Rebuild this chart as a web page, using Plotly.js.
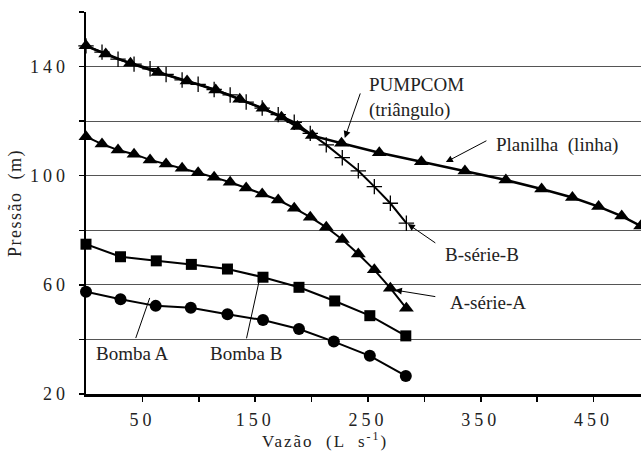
<!DOCTYPE html>
<html>
<head>
<meta charset="utf-8">
<script src="https://cdn.plot.ly/plotly-3.0.1.min.js"></script>
<style>
html, body { margin: 0; padding: 0; background: #fff; }
#chart { width: 641px; height: 452px; }
.xtick text, .ytick text { letter-spacing: 4px; }
.ytitle { letter-spacing: 1.5px; }
</style>
</head>
<body>
<div id="chart"></div>
<script>
// Top curve: PUMPCOM (triangles) with Planilha line
const topX = [0, 17.5, 39.4, 63.9, 89.6, 115.0, 136.3, 157.0, 173.3, 187.5, 200.6, 226.5, 260.0, 297.3, 335.9, 372.2, 403.9, 431.2, 454.4, 474.9, 491.7];
const topY = [147.6, 144.6, 141.2, 137.8, 134.7, 131.4, 128.0, 124.7, 121.4, 118.0, 114.7, 111.9, 108.4, 105.1, 101.7, 98.4, 95.1, 92.0, 88.7, 85.2, 81.6];

// B-série-B (crosses)
const bSerieX = [0, 14.2, 28.4, 42.6, 56.8, 71.0, 85.2, 99.4, 113.6, 127.8, 142.0, 156.2, 170.4, 184.6, 198.8, 213.0, 227.2, 241.4, 255.6, 269.8, 284.0];
const bSerieY = [147.6, 145.3, 142.7, 140.9, 139.2, 137.1, 135.1, 133.5, 131.6, 129.6, 127.0, 124.8, 122.4, 119.6, 115.5, 111.3, 106.6, 101.8, 96.0, 89.9, 82.6];

// A-série-A (triangles)
const aSerieX = [0, 14.2, 28.4, 42.6, 56.8, 71.0, 85.2, 99.4, 113.6, 127.8, 142.0, 156.2, 170.4, 184.6, 198.8, 213.0, 227.2, 241.4, 255.6, 269.8, 284.0];
const aSerieY = [114.3, 111.6, 109.4, 107.9, 105.8, 104.3, 102.7, 101.1, 99.4, 97.6, 95.5, 93.3, 91.1, 88.1, 84.8, 81.1, 76.6, 71.3, 65.5, 58.8, 51.4];

// Bomba B (squares)
const bombaBX = [0, 30.6, 62.3, 93.4, 125.4, 156.9, 188.8, 220.5, 251.6, 283.5];
const bombaBY = [74.9, 70.3, 68.8, 67.5, 65.8, 62.8, 59.1, 54.1, 48.7, 41.3];

// Bomba A (circles)
const bombaAX = [0, 30.6, 61.8, 92.9, 125.4, 156.9, 188.8, 219.7, 251.6, 283.5];
const bombaAY = [57.5, 54.7, 52.3, 51.6, 49.2, 47.1, 43.8, 39.2, 34.0, 26.6];

// Axis ticks
const xTickVals = [50, 100, 150, 200, 250, 300, 350, 400, 450];
const xTickText = ['50', '', '150', '', '250', '', '350', '', '450'];
const yTickVals = [20, 40, 60, 80, 100, 120, 140, 160];
const yTickText = ['20', '', '60', '', '100', '', '140', ''];

const FONT = '"Liberation Serif"';

const traces = [
  {
    x: bSerieX, y: bSerieY, mode: 'lines+markers', name: 'B-série-B',
    line: { color: '#000', width: 2 },
    marker: { symbol: 'cross-thin', size: 11, color: '#000', line: { color: '#000', width: 1.3 } },
    cliponaxis: false
  },
  {
    x: topX, y: topY, mode: 'lines+markers', name: 'PUMPCOM / Planilha',
    line: { color: '#000', width: 2.5 },
    marker: { symbol: 'triangle-up', size: 13, color: '#000' },
    cliponaxis: false
  },
  {
    x: aSerieX, y: aSerieY, mode: 'lines+markers', name: 'A-série-A',
    line: { color: '#000', width: 2 },
    marker: { symbol: 'triangle-up', size: 13, color: '#000' },
    cliponaxis: false
  },
  {
    x: bombaBX, y: bombaBY, mode: 'lines+markers', name: 'Bomba B',
    line: { color: '#000', width: 2 },
    marker: { symbol: 'square', size: 11, color: '#000' },
    cliponaxis: false
  },
  {
    x: bombaAX, y: bombaAY, mode: 'lines+markers', name: 'Bomba A',
    line: { color: '#000', width: 2 },
    marker: { symbol: 'circle', size: 12, color: '#000' },
    cliponaxis: false
  }
];

const annFont = { family: FONT, size: 19, color: '#222' };
function label(text, x, y) {
  return { text: text, x: x, y: y, xref: 'x', yref: 'y', xanchor: 'left', yanchor: 'middle',
           align: 'left', showarrow: false, font: annFont };
}
function arrow(x, y, ax, ay) {
  return { text: '', x: x, y: y, ax: ax, ay: ay, xref: 'x', yref: 'y', axref: 'x', ayref: 'y',
           showarrow: true, arrowhead: 2, arrowsize: 1.4, arrowwidth: 1, arrowcolor: '#000' };
}

const layout = {
  width: 641, height: 452,
  margin: { l: 86, r: 0, t: 12, b: 58 },
  paper_bgcolor: '#fff', plot_bgcolor: '#fff',
  showlegend: false,
  font: { family: FONT, color: '#222' },
  xaxis: {
    range: [0, 492], showline: true, linecolor: '#000', linewidth: 2.5,
    ticks: 'outside', ticklen: 5, tickwidth: 1.5, tickcolor: '#000',
    tickvals: xTickVals, ticktext: xTickText,
    showgrid: false, zeroline: false,
    tickfont: { family: FONT, size: 18, color: '#222' },
    ticklabelstandoff: 3
  },
  yaxis: {
    range: [20, 160], showline: true, linecolor: '#000', linewidth: 2.5,
    ticks: 'outside', ticklen: 5, tickwidth: 1.5, tickcolor: '#000',
    tickvals: yTickVals, ticktext: yTickText,
    showgrid: true, gridcolor: '#555', gridwidth: 1, zeroline: false,
    tickfont: { family: FONT, size: 18, color: '#222' },
    ticklabelstandoff: 6,
    title: { text: 'Pressão  (m)', font: { family: FONT, size: 18, color: '#222' }, standoff: 4 }
  },
  annotations: [
    { text: 'Vazão  (L  s<sup>-1</sup>)', xref: 'paper', yref: 'paper', x: 0.4306, y: -0.121,
      xanchor: 'center', yanchor: 'middle', showarrow: false,
      font: { family: FONT, size: 17, color: '#222' } },
    label('PUMPCOM<br>(triângulo)', 249, 128.5),
    arrow(229.4, 113.8, 243.6, 130.7),
    label('Planilha  (linha)', 361.6, 111.3),
    arrow(319.0, 105.0, 356.3, 113.1),
    label('B-série-B', 316.4, 71.3),
    arrow(285.3, 82.3, 311.0, 75.0),
    label('A-série-A', 320.9, 53.4),
    arrow(273.8, 58.1, 311.0, 55.6),
    label('Bomba A', 6.8, 35.0),
    label('Bomba B', 108.0, 35.0)
  ],
  shapes: [
    { type: 'line', xref: 'x', yref: 'y', x0: 44.1, y0: 40.5, x1: 56.5, y1: 55.2, line: { color: '#000', width: 1 } },
    { type: 'line', xref: 'x', yref: 'y', x0: 142.3, y0: 40.4, x1: 154.1, y1: 62.6, line: { color: '#000', width: 1 } }
  ]
};

Plotly.newPlot('chart', traces, layout, { displayModeBar: false, staticPlot: true }).then(function () {
  // widen the letter spacing of the x-axis title like the reference
  const anns = document.querySelectorAll('.annotation-text');
  if (anns.length) { anns[0].style.letterSpacing = '2px'; }
});
</script>
</body>
</html>
